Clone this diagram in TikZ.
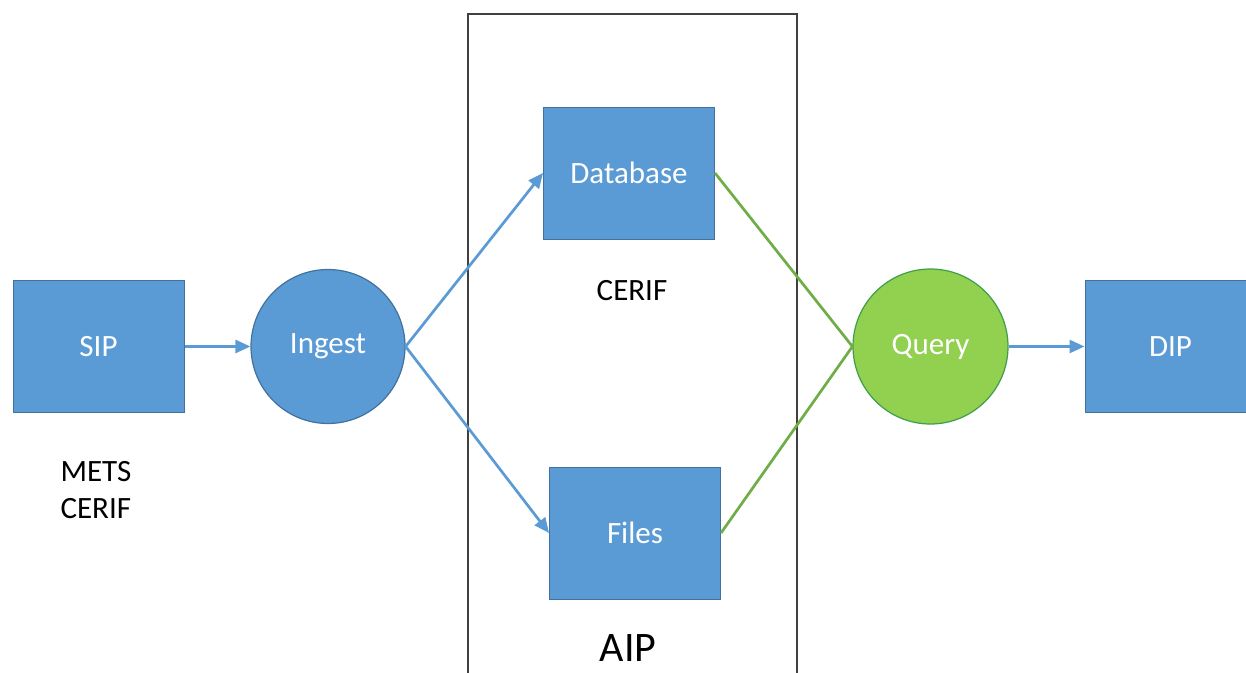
\documentclass[tikz,border=0pt]{standalone}
\usepackage{fontspec}
\setmainfont{Carlito}
\usetikzlibrary{arrows.meta}
\definecolor{bfill}{HTML}{5B9BD5}
\definecolor{bdraw}{HTML}{41719C}
\definecolor{gfill}{HTML}{92D050}
\definecolor{gdraw}{HTML}{3E9E4A}
\definecolor{gline}{HTML}{70AD47}
\definecolor{frame}{HTML}{404040}
\begin{document}
\begin{tikzpicture}[x=1pt,y=-1pt,
  lbl/.style={font=\fontsize{31}{37}\selectfont},
  bbox/.style={rectangle,fill=bfill,draw=bdraw,line width=1pt,minimum width=171pt,minimum height=132pt,inner sep=0pt,text=white,lbl},
  bcirc/.style={circle,fill=bfill,draw=bdraw,line width=1.2pt,minimum size=154pt,inner sep=0pt,text=white,lbl},
  gcirc/.style={circle,fill=gfill,draw=gdraw,line width=1.2pt,minimum size=155pt,inner sep=0pt,text=white,lbl},
  barrow/.style={draw=bfill,line width=2.7pt,-{Triangle[length=15pt,width=13pt]}},
  gconn/.style={draw=gline,line width=2.7pt}]
\useasboundingbox (0,0) rectangle (1246,672);
\clip (0,0) rectangle (1246,672);
\fill[white] (0,0) rectangle (1246,672);
\draw[frame,line width=1.6pt] (468,14) rectangle (797,700);
\node[bbox] (sip) at (98.5,346.5) {SIP};
\node[bcirc] (ingest) at (328,346.5) {Ingest};
\node[bbox] (db) at (629,173) {Database};
\node[bbox] (files) at (635,533) {Files};
\node[gcirc] (query) at (930.5,346.5) {Query};
\node[bbox] (dip) at (1170.5,346.5) {DIP};
\node[lbl,text=black] (cerif) at (632,291) {CERIF};
\node[lbl,text=black,align=left,anchor=west] (mets) at (57,490) {METS\\CERIF};
\node[font=\fontsize{42}{50}\selectfont,text=black] (aip) at (628,648) {AIP};
\draw[barrow] (sip.east) -- (ingest.west);
\draw[barrow] (ingest.east) -- (db.west);
\draw[barrow] (ingest.east) -- (files.west);
\draw[gconn] (db.east) -- (query.west);
\draw[gconn] (files.east) -- (query.west);
\draw[barrow] (query.east) -- (dip.west);
\end{tikzpicture}
\end{document}
